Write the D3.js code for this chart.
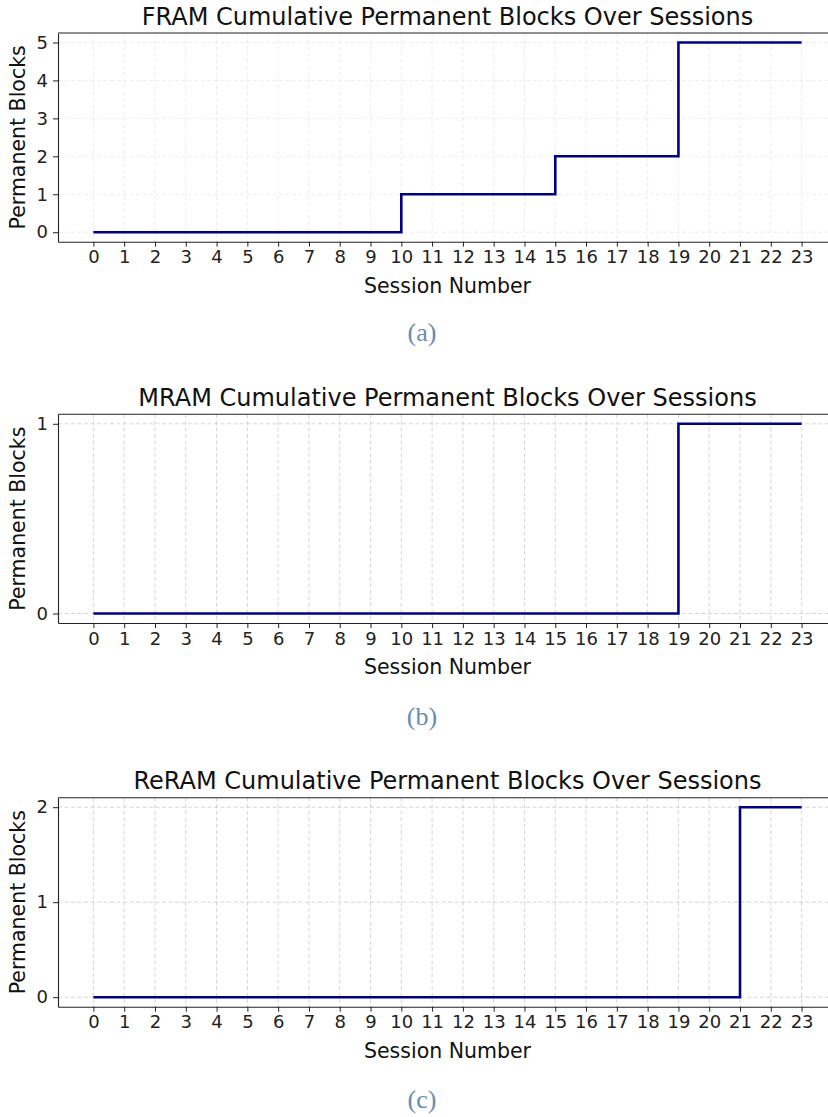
<!DOCTYPE html>
<html>
<head>
<meta charset="utf-8">
<script src="https://cdn.jsdelivr.net/npm/d3@7"></script>
<style>
  body { margin: 0; background: #fff; }
  svg text { font-family: "DejaVu Sans", sans-serif; }
  svg text.cap { font-family: "Liberation Serif", "DejaVu Serif", serif; }
  .grid line { stroke-dasharray: 4,2.5; }
  .axis path, .axis line { stroke: #222; }
  .axis text { fill: #222; font-size: 18px; }
</style>
</head>
<body>
<svg id="chart" width="828" height="1117"></svg>
<script>
// sessions 0..23
var sessions = d3.range(0, 24);

// cumulative permanent blocks per session
var framBlocks  = [0,0,0,0,0,0,0,0,0,0,1,1,1,1,1,2,2,2,2,5,5,5,5,5];
var mramBlocks  = [0,0,0,0,0,0,0,0,0,0,0,0,0,0,0,0,0,0,0,1,1,1,1,1];
var reramBlocks = [0,0,0,0,0,0,0,0,0,0,0,0,0,0,0,0,0,0,0,0,0,2,2,2];

var titles = ["FRAM Cumulative Permanent Blocks Over Sessions",
              "MRAM Cumulative Permanent Blocks Over Sessions",
              "ReRAM Cumulative Permanent Blocks Over Sessions"];
var captions = ["(a)", "(b)", "(c)"];
var yTicks = [[0,1,2,3,4,5], [0,1], [0,1,2]];

var panels = [
  {values: framBlocks,  top: 33,    bottom: 241.7, gridColor: "#e8e8e8", cap: 341},
  {values: mramBlocks,  top: 414.3, bottom: 623,   gridColor: "#cccccc", cap: 725},
  {values: reramBlocks, top: 797.7, bottom: 1006.7, gridColor: "#cccccc", cap: 1108}
];

var svg = d3.select("#chart");
var left = 58, right = 837;

panels.forEach(function(p, i) {
  var maxV = d3.max(p.values);
  var pad = maxV * 0.05;
  var x = d3.scaleLinear().domain([-1.15, 24.15]).range([left, right]);
  var y = d3.scaleLinear().domain([-pad, maxV + pad]).range([p.bottom, p.top]);

  var g = svg.append("g");

  // grid
  var grid = g.append("g").attr("class", "grid");
  grid.selectAll("line.v").data(sessions).enter().append("line")
      .attr("class", "v")
      .attr("x1", function(d) { return x(d); }).attr("x2", function(d) { return x(d); })
      .attr("y1", p.top).attr("y2", p.bottom)
      .attr("stroke", p.gridColor).attr("stroke-width", 0.8);
  grid.selectAll("line.h").data(yTicks[i]).enter().append("line")
      .attr("class", "h")
      .attr("x1", left).attr("x2", right)
      .attr("y1", function(d) { return y(d); }).attr("y2", function(d) { return y(d); })
      .attr("stroke", p.gridColor).attr("stroke-width", 0.8);

  // step line
  var line = d3.line()
      .x(function(d, j) { return x(sessions[j]); })
      .y(function(d) { return y(d); })
      .curve(d3.curveStepAfter);
  g.append("path").datum(p.values)
      .attr("d", line)
      .attr("fill", "none")
      .attr("stroke", "#000080")
      .attr("stroke-width", 2.6);

  // axes
  var xAxis = g.append("g").attr("class", "axis")
      .attr("transform", "translate(0," + p.bottom + ")")
      .call(d3.axisBottom(x).tickValues(sessions).tickFormat(d3.format("d")).tickSize(5).tickSizeOuter(0).tickPadding(4));
  xAxis.select(".domain").attr("stroke-width", 1.1);
  xAxis.selectAll("line").attr("stroke-width", 1);

  var yAxis = g.append("g").attr("class", "axis")
      .attr("transform", "translate(" + left + ",0)")
      .call(d3.axisLeft(y).tickValues(yTicks[i]).tickFormat(d3.format("d")).tickSize(5).tickSizeOuter(0).tickPadding(5));
  yAxis.select(".domain").attr("stroke-width", 1.1);

  // top spine
  g.append("line").attr("x1", left).attr("x2", right)
      .attr("y1", p.top).attr("y2", p.top)
      .attr("stroke", "#222").attr("stroke-width", 1.1);

  // title
  g.append("text")
      .attr("x", (left + right) / 2).attr("y", p.top - 8.5)
      .attr("text-anchor", "middle")
      .attr("font-size", 24).attr("fill", "#111")
      .text(titles[i]);

  // axis labels
  g.append("text")
      .attr("x", (left + right) / 2).attr("y", p.bottom + 51)
      .attr("text-anchor", "middle")
      .attr("font-size", 20.5).attr("fill", "#111")
      .text("Session Number");
  g.append("text")
      .attr("transform", "translate(25," + ((p.top + p.bottom) / 2) + ") rotate(-90)")
      .attr("text-anchor", "middle")
      .attr("font-size", 20.5).attr("fill", "#111")
      .text("Permanent Blocks");

  // caption
  svg.append("text").attr("class", "cap")
      .attr("x", 422).attr("y", p.cap)
      .attr("text-anchor", "middle")
      .attr("font-size", 26).attr("fill", "#6a8caf")
      .text(captions[i]);
});
</script>
</body>
</html>
